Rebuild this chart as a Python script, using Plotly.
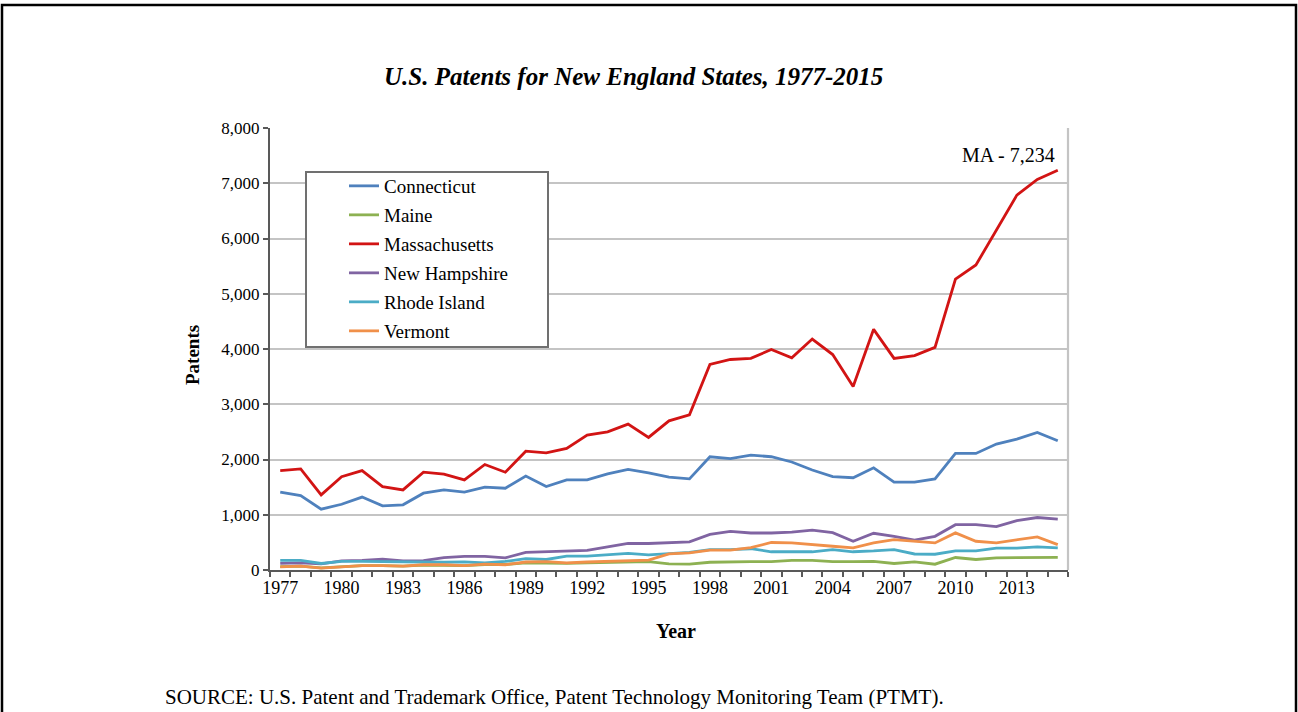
import plotly.graph_objects as go

years = list(range(1977, 2016))

connecticut = [1410, 1345, 1100, 1190, 1320, 1160, 1180, 1390, 1450, 1410, 1500, 1480, 1700,
               1510, 1630, 1630, 1740, 1820, 1760, 1680, 1650, 2050, 2015, 2080, 2050, 1955,
               1810, 1690, 1670, 1850, 1590, 1590, 1650, 2110, 2110, 2280, 2370, 2490, 2340]
maine = [60, 70, 40, 60, 80, 80, 70, 90, 90, 80, 100, 100, 130,
         120, 120, 130, 140, 150, 150, 110, 105, 140, 148, 150, 150, 175,
         175, 150, 150, 155, 118, 148, 105, 226, 190, 220, 225, 228, 228]
massachusetts = [1800, 1830, 1360, 1690, 1800, 1510, 1450, 1770, 1735, 1630, 1910, 1770, 2150,
                 2120, 2200, 2440, 2500, 2640, 2400, 2700, 2810, 3720, 3810, 3830, 3990, 3840,
                 4180, 3900, 3320, 4356, 3830, 3880, 4030, 5265, 5520, 6150, 6785, 7070, 7234]
new_hampshire = [120, 130, 110, 165, 175, 195, 165, 170, 225, 245, 245, 220, 320,
                 330, 350, 355, 420, 480, 480, 490, 510, 645, 700, 670, 670, 685,
                 720, 675, 520, 665, 610, 540, 610, 820, 820, 785, 895, 950, 920]
rhode_island = [175, 175, 118, 155, 155, 148, 148, 140, 140, 148, 130, 155, 205,
                190, 250, 250, 275, 300, 275, 300, 320, 370, 370, 385, 330, 330,
                330, 370, 330, 345, 370, 290, 285, 345, 345, 395, 395, 420, 400]
vermont = [58, 70, 33, 50, 80, 80, 70, 95, 95, 80, 105, 95, 145,
           150, 130, 145, 160, 172, 180, 292, 310, 358, 360, 405, 498, 492,
           456, 430, 400, 492, 550, 520, 490, 672, 520, 492, 550, 600, 460]

series = [
    ("Connecticut", connecticut, "#4F81BD"),
    ("Maine", maine, "#8DB152"),
    ("Massachusetts", massachusetts, "#D21414"),
    ("New Hampshire", new_hampshire, "#8064A2"),
    ("Rhode Island", rhode_island, "#4BACC6"),
    ("Vermont", vermont, "#F0904A"),
]

SERIF = "Liberation Serif, Times New Roman, serif"
W, H = 1298, 712
L, R, T, B = 270, 1068, 128, 570  # plot area in pixels

def px(x):
    return (x - L) / (R - L)

def py(y):
    return (B - y) / (B - T)

fig = go.Figure()
legend_rows = [186, 215, 244, 273, 302, 331]
for i, (name, vals, color) in enumerate(series):
    lg = "legend" if i == 0 else f"legend{i+1}"
    fig.add_trace(go.Scatter(x=years, y=vals, name=name, mode="lines",
                             line=dict(color=color, width=2.8), legend=lg))

legends = {}
for i, yrow in enumerate(legend_rows):
    key = "legend" if i == 0 else f"legend{i+1}"
    legends[key] = dict(x=px(344), y=py(yrow), xanchor="left", yanchor="middle",
                        bgcolor="rgba(0,0,0,0)", borderwidth=0,
                        font=dict(family=SERIF, size=19, color="black"),
                        itemwidth=30)

fig.update_layout(
    width=W, height=H, autosize=False,
    margin=dict(l=L, r=W - R, t=T, b=H - B, pad=0),
    paper_bgcolor="white", plot_bgcolor="white",
    showlegend=True,
    **legends,
    xaxis=dict(range=[1976.5, 2015.5], tickmode="array",
               tickvals=list(range(1977, 2016, 3)),
               ticks="", showgrid=False, zeroline=False,
               showline=True, linecolor="#595959", linewidth=2,
               tickfont=dict(family=SERIF, size=18, color="black"),
               minor=dict(tick0=1976.5, dtick=1, ticks="outside", ticklen=5,
                          tickwidth=1.5, tickcolor="#595959", showgrid=False),
               mirror=False),
    yaxis=dict(range=[0, 8000], dtick=1000, tickformat=",",
               ticks="outside", ticklen=5, tickwidth=1.5, tickcolor="#595959",
               showgrid=True, gridcolor="#C4C4C4", gridwidth=2.2,
               zeroline=False, showline=True, linecolor="#595959", linewidth=2,
               tickfont=dict(family=SERIF, size=17, color="black")),
    shapes=[
        dict(type="line", xref="paper", yref="paper", x0=1, x1=1, y0=0, y1=1,
             line=dict(color="#C4C4C4", width=2.2)),
        dict(type="rect", xref="paper", yref="paper", x0=px(306), x1=px(548),
             y0=py(347), y1=py(172), fillcolor="white",
             line=dict(color="#707070", width=2), layer="above"),
        dict(type="rect", xref="paper", yref="paper", x0=px(2), x1=px(1296),
             y0=py(740), y1=py(5), line=dict(color="black", width=2.5),
             fillcolor="rgba(0,0,0,0)", layer="above"),
    ],
    annotations=[
        dict(text="<b><i>U.S. Patents for New England States, 1977-2015</i></b>",
             xref="paper", yref="paper", x=px(633), y=py(77), xanchor="center",
             yanchor="middle", showarrow=False,
             font=dict(family=SERIF, size=25, color="black")),
        dict(text="<b>Patents</b>", xref="paper", yref="paper", x=px(192), y=py(355),
             textangle=-90, xanchor="center", yanchor="middle", showarrow=False,
             font=dict(family=SERIF, size=19, color="black")),
        dict(text="<b>Year</b>", xref="paper", yref="paper", x=px(676), y=py(631),
             xanchor="center", yanchor="middle", showarrow=False,
             font=dict(family=SERIF, size=20, color="black")),
        dict(text="MA - 7,234", xref="paper", yref="paper", x=px(1008), y=py(155),
             xanchor="center", yanchor="middle", showarrow=False,
             font=dict(family=SERIF, size=20, color="black")),
        dict(text="SOURCE: U.S. Patent and Trademark Office, Patent Technology Monitoring Team (PTMT).",
             xref="paper", yref="paper", x=px(163), y=py(697), xanchor="left",
             yanchor="middle", showarrow=False,
             font=dict(family=SERIF, size=21, color="black")),
    ],
)

fig.write_html("out.html", config={"displayModeBar": False},
               post_script="document.body.style.margin='0';")
